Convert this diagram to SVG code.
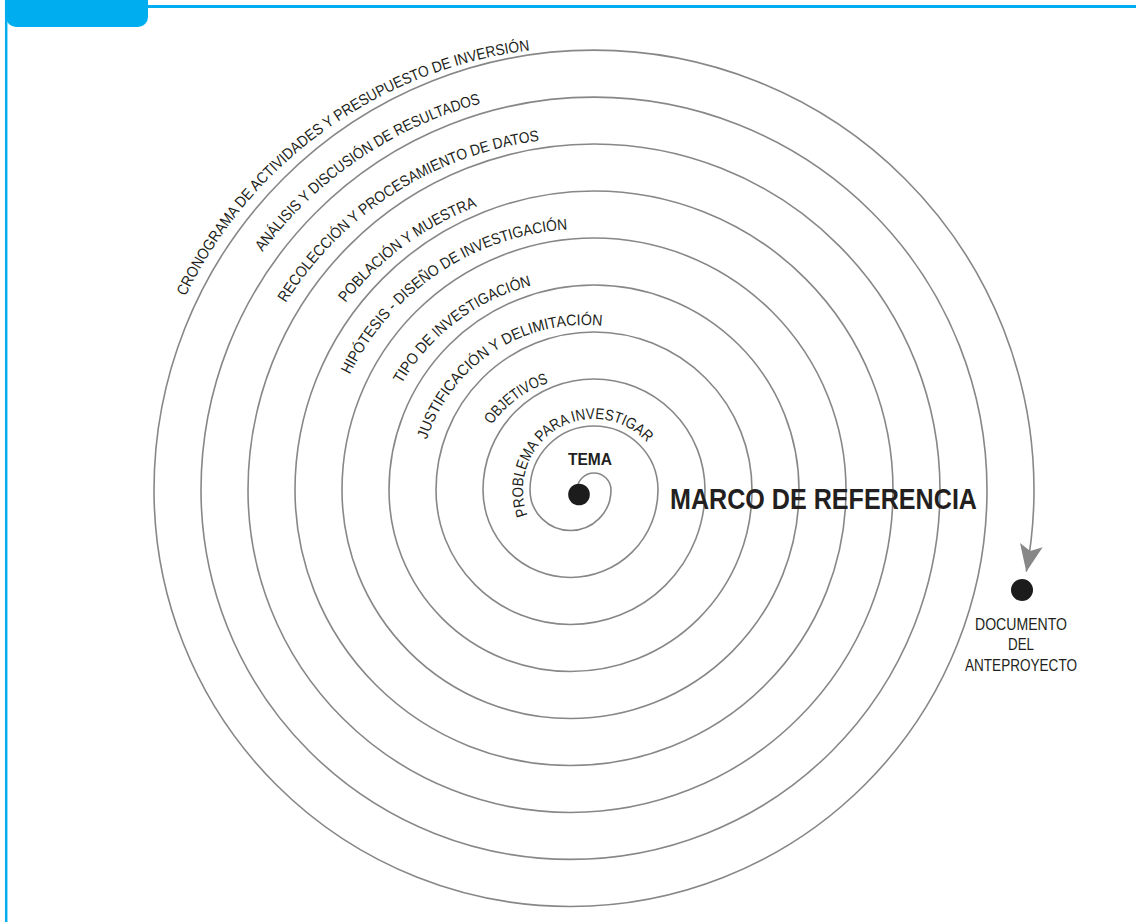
<svg xmlns="http://www.w3.org/2000/svg" width="1136" height="922" viewBox="0 0 1136 922">
<style>
.frame{stroke:#00aeef;fill:none}
.spiral{fill:none;stroke:#878787;stroke-width:1.6}
.lbl{font-family:"Liberation Sans",Arial,sans-serif;font-size:15.5px;fill:#231f20}
.dot{fill:#1c1c1c}
.doc{font-family:"Liberation Sans",Arial,sans-serif;font-size:17px;fill:#231f20;text-anchor:middle}
.big{font-family:"Liberation Sans",Arial,sans-serif;font-weight:bold;fill:#231f20}
</style>
<defs>
<marker id="arrow" markerUnits="userSpaceOnUse" markerWidth="32" markerHeight="28" viewBox="-29 -14 32 28" refX="0" refY="0" orient="auto">
<path d="M0,0 L-27,-11.5 L-21,0 L-27,11.5 Z" fill="#878787"/>
</marker>
<path id="p1" d="M185.5,296.5 A443,443 0 0 1 683.7,58.4"/>
<path id="p2" d="M262.5,252.1 A400,400 0 0 1 618.9,91.5"/>
<path id="p3" d="M285.8,303 A352,352 0 0 1 663.2,147"/>
<path id="p4" d="M345.6,303 A303,303 0 0 1 584,187"/>
<path id="p5" d="M349.8,374.8 A261,261 0 0 1 660.3,240.4"/>
<path id="p6" d="M401.6,383.9 A211,211 0 0 1 606.1,280.2"/>
<path id="p7" d="M426.9,439.6 A165,165 0 0 1 658.9,343"/>
<path id="p8" d="M491.7,424.9 A113,113 0 0 1 587.9,377.1"/>
<path id="p9" d="M527.6,515.2 A71,71 0 0 1 660.3,464.6"/>
</defs>
<rect width="1136" height="922" fill="#ffffff"/>
<g id="frame">
<line class="frame" x1="6.2" y1="0" x2="6.2" y2="922" stroke-width="2.5"/>
<line class="frame" x1="146" y1="6.5" x2="1136" y2="6.5" stroke-width="3"/>
<path d="M6,0 H148 V17 A10,10 0 0 1 138,27 H16 A10,10 0 0 1 6,17 Z" fill="#00aeef"/>
</g>
<g id="connectors">
<path class="spiral" marker-end="url(#arrow)" d="M577,490 A17,17 0 0 1 611,490 A40.5,40.5 0 0 1 530,490 A64,64 0 0 1 658,490 A87.5,87.5 0 0 1 483,490 A111,111 0 0 1 705,490 A134.5,134.5 0 0 1 436,490 A158,158 0 0 1 752,490 A181.5,181.5 0 0 1 389,490 A205,205 0 0 1 799,490 A228.5,228.5 0 0 1 342,490 A252,252 0 0 1 846,490 A275.5,275.5 0 0 1 295,490 A299,299 0 0 1 893,490 A322.5,322.5 0 0 1 248,490 A346,346 0 0 1 940,490 A369.5,369.5 0 0 1 201,490 A393,393 0 0 1 987,490 A416.5,416.5 0 0 1 154,490 A440,440 0 0 1 1034,490 A440,440 0 0 1 1026.3,571.7"/>
</g>
<g id="node-tema">
<circle class="dot" cx="579" cy="494.5" r="10.8"/>
<text class="big" x="590" y="465" font-size="16" text-anchor="middle" textLength="44" lengthAdjust="spacingAndGlyphs">TEMA</text>
</g>
<g id="node-problema"><text class="lbl"><textPath href="#p9" textLength="197" lengthAdjust="spacingAndGlyphs">PROBLEMA PARA INVESTIGAR</textPath></text></g>
<g id="node-objetivos"><text class="lbl"><textPath href="#p8" textLength="72" lengthAdjust="spacingAndGlyphs">OBJETIVOS</textPath></text></g>
<g id="node-justificacion"><text class="lbl"><textPath href="#p7" textLength="226" lengthAdjust="spacingAndGlyphs">JUSTIFICACIÓN Y DELIMITACIÓN</textPath></text></g>
<g id="node-tipo"><text class="lbl"><textPath href="#p6" textLength="167" lengthAdjust="spacingAndGlyphs">TIPO DE INVESTIGACIÓN</textPath></text></g>
<g id="node-hipotesis"><text class="lbl"><textPath href="#p5" textLength="274" lengthAdjust="spacingAndGlyphs">HIPÓTESIS - DISEÑO DE INVESTIGACIÓN</textPath></text></g>
<g id="node-poblacion"><text class="lbl"><textPath href="#p4" textLength="165" lengthAdjust="spacingAndGlyphs">POBLACIÓN Y MUESTRA</textPath></text></g>
<g id="node-recoleccion"><text class="lbl"><textPath href="#p3" textLength="311" lengthAdjust="spacingAndGlyphs">RECOLECCIÓN Y PROCESAMIENTO DE DATOS</textPath></text></g>
<g id="node-analisis"><text class="lbl"><textPath href="#p2" textLength="269" lengthAdjust="spacingAndGlyphs">ANÁLISIS Y DISCUSIÓN DE RESULTADOS</textPath></text></g>
<g id="node-cronograma"><text class="lbl"><textPath href="#p1" textLength="441" lengthAdjust="spacingAndGlyphs">CRONOGRAMA DE ACTIVIDADES Y PRESUPUESTO DE INVERSIÓN</textPath></text></g>
<g id="node-marco">
<text class="big" x="670" y="508.5" font-size="30" textLength="307" lengthAdjust="spacingAndGlyphs">MARCO DE REFERENCIA</text>
</g>
<g id="node-documento">
<circle class="dot" cx="1022" cy="590" r="11"/>
<text class="doc" x="1021" y="630" textLength="92" lengthAdjust="spacingAndGlyphs">DOCUMENTO</text>
<text class="doc" x="1021" y="650" textLength="26" lengthAdjust="spacingAndGlyphs">DEL</text>
<text class="doc" x="1021" y="670.5" textLength="112" lengthAdjust="spacingAndGlyphs">ANTEPROYECTO</text>
</g>
</svg>
